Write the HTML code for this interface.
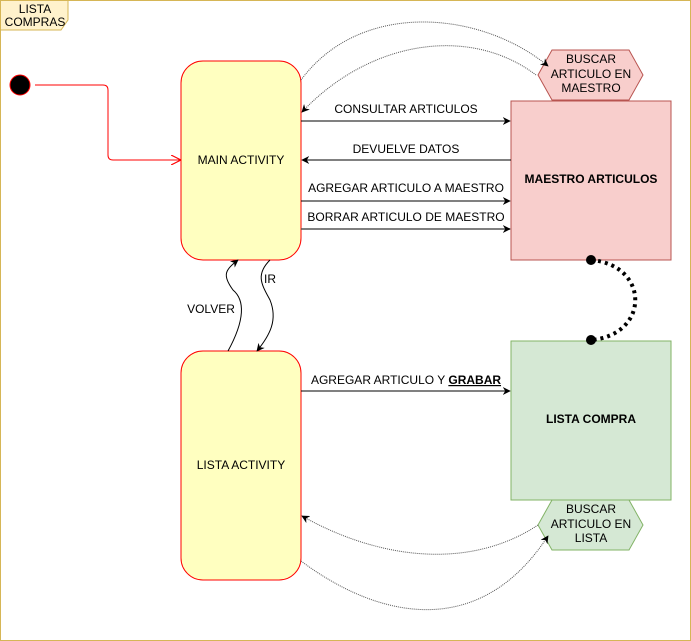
<!DOCTYPE html>
<html><head><meta charset="utf-8"><style>
html,body{margin:0;padding:0;background:#fff;}
svg{display:block;font-family:"Liberation Sans",Arial,sans-serif;}
</style></head><body>
<svg width="691" height="641" viewBox="0 0 691 641" xmlns="http://www.w3.org/2000/svg">
<defs>
<marker id="a" viewBox="0 0 10 10" refX="9" refY="5" markerWidth="8" markerHeight="8" orient="auto" markerUnits="userSpaceOnUse"><path d="M0,0 L10,5 L0,10 L3,5 z" fill="#000"/></marker>
<marker id="r" viewBox="0 0 10 10" refX="9" refY="5" markerWidth="10" markerHeight="10" orient="auto" markerUnits="userSpaceOnUse"><path d="M0,0 L10,5 L0,10" fill="none" stroke="#f00" stroke-width="1.2"/></marker>
</defs>
<rect x="0.5" y="0.5" width="690" height="640" fill="#fff" stroke="#d6b656"/>
<path d="M0.5,0.5 H68 V20 L61,30 H0.5 Z" fill="#fff2cc" stroke="#d6b656"/>
<text x="35" y="13" font-size="12" text-anchor="middle">LISTA</text>
<text x="35" y="26" font-size="12" text-anchor="middle">COMPRAS</text>

<circle cx="20" cy="85" r="10" fill="#000" stroke="#f00"/>
<path d="M35,85 H103 Q108,85 108,90 V155 Q108,160 113,160 H180" fill="none" stroke="#f00" marker-end="url(#r)"/>

<rect x="181" y="61" width="120" height="199" rx="22" fill="#ffffc0" stroke="#f00"/>
<text x="241" y="164" font-size="12" text-anchor="middle">MAIN ACTIVITY</text>
<rect x="181" y="351" width="120" height="229" rx="22" fill="#ffffc0" stroke="#f00"/>
<text x="241" y="469" font-size="12" text-anchor="middle">LISTA ACTIVITY</text>

<rect x="511" y="101" width="160" height="159" fill="#f8cecc" stroke="#b85450"/>
<text x="591" y="183" font-size="12" font-weight="bold" text-anchor="middle">MAESTRO ARTICULOS</text>
<rect x="511" y="341" width="160" height="159" fill="#d5e8d4" stroke="#82b366"/>
<text x="591" y="423" font-size="12" font-weight="bold" text-anchor="middle">LISTA COMPRA</text>

<polygon points="552,50 629,50 643,75 629,100 552,100 538,75" fill="#f8cecc" stroke="#b85450"/>
<text x="591" y="63" font-size="12" text-anchor="middle">BUSCAR</text>
<text x="591" y="78" font-size="12" text-anchor="middle">ARTICULO EN</text>
<text x="591" y="92" font-size="12" text-anchor="middle">MAESTRO</text>
<polygon points="552,500 629,500 643,525 629,550 552,550 538,525" fill="#d5e8d4" stroke="#82b366"/>
<text x="591" y="513" font-size="12" text-anchor="middle">BUSCAR</text>
<text x="591" y="528" font-size="12" text-anchor="middle">ARTICULO EN</text>
<text x="591" y="542" font-size="12" text-anchor="middle">LISTA</text>

<g stroke="#000" fill="none">
<path d="M301,121 H510" marker-end="url(#a)"/>
<path d="M511,160 H302" marker-end="url(#a)"/>
<path d="M301,201 H510" marker-end="url(#a)"/>
<path d="M301,229 H510" stroke="#555" stroke-width="1.5" marker-end="url(#a)"/>
<path d="M301,391 H510" marker-end="url(#a)"/>
</g>
<g font-size="12" text-anchor="middle">
<text x="406" y="113">CONSULTAR ARTICULOS</text>
<text x="406" y="153">DEVUELVE DATOS</text>
<text x="406" y="192">AGREGAR ARTICULO A MAESTRO</text>
<text x="406" y="221">BORRAR ARTICULO DE MAESTRO</text>
<text x="406" y="384">AGREGAR ARTICULO Y <tspan font-weight="bold" text-decoration="underline">GRABAR</tspan></text>
<text x="270" y="283">IR</text>
<text x="211" y="313">VOLVER</text>
</g>

<g stroke="#555" fill="none" stroke-dasharray="1,1">
<path d="M301,80 C360,0 480,10 548,66" marker-end="url(#a)"/>
<path d="M536,75 C470,25 370,40 302,112" marker-end="url(#a)"/>
<path d="M538,525 C470,570 380,560 302,516" marker-end="url(#a)"/>
<path d="M301,561 C380,620 480,640 548,536" marker-end="url(#a)"/>
</g>
<g stroke="#000" fill="none">
<path d="M228,351 C245,320 245,300 233,290 C222,275 225,270 238,260" marker-end="url(#a)"/>
<path d="M270,260 C255,275 262,285 270,300 C278,320 270,335 257,351" marker-end="url(#a)"/>
</g>
<path d="M591,260 C650,265 650,335 591,340" fill="none" stroke="#000" stroke-width="4" stroke-dasharray="3,4"/>
<circle cx="591" cy="260" r="5" fill="#000"/>
<circle cx="591" cy="340" r="5" fill="#000"/>
</svg>
</body></html>
